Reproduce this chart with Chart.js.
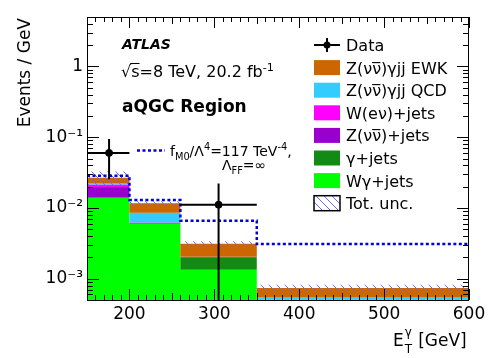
<!DOCTYPE html>
<html>
<head>
<meta charset="utf-8">
<script src="https://cdn.jsdelivr.net/npm/chart.js@4.4.0/dist/chart.umd.min.js"></script>
<style>
  html, body { margin: 0; padding: 0; background: #fff; }
</style>
</head>
<body>
<canvas id="c" width="498" height="358"></canvas>
<script>
// bin edges (GeV)
const binEdges = [150, 200, 260, 350, 600];

// background stack, Events / GeV, bottom -> top
const wgamJets = [0.0138, 0.0060, 0.00134, 0.00048];
const gamJets  = [0.0002, 0.00005, 0.00067, 0.00001];
const zvvJets  = [0.0058, 0.0001, 0.00001, 0.00001];
const wenJets  = [0.0017, 0.0001, 0.00001, 0.00001];
const zgQCD    = [0.0007, 0.0023, 0.00002, 0.00004];
const zgEWK    = [0.0046, 0.0031, 0.00108, 0.00019];
const totUnc   = [0.006, 0.0008, 0.00025, 0.00008];

// aQGC signal fM0 (dashed)
const signalM0 = [0.0285, 0.0130, 0.0066, 0.0031];

// data
const dataX   = [176, 305];
const dataY   = [0.060, 0.0111];
const dataErr = [0.0346, 0.0111];
const dataXLo = [150, 260];
const dataXHi = [200, 350];

// ticks
const xTicks = [200, 300, 400, 500, 600];
const yTickVals = [1e-3, 1e-2, 1e-1, 1];
const yTickLabels = ['10⁻³', '10⁻²', '10⁻¹', '1'];

const layerNames = ['Wγ+jets', 'γ+jets', 'Z(νν̅)+jets', 'W(eν)+jets', 'Z(νν̅)γjj QCD', 'Z(νν̅)γjj EWK'];
const layerColors = ['#00ff00', '#138a13', '#9900cc', '#ff00ff', '#33ccff', '#cc6600'];

const FONT = '"DejaVu Sans", sans-serif';
Chart.defaults.font.family = FONT;
Chart.defaults.color = '#000';

// step points at each left edge, plus the last right edge
function steps(vals) {
    const pts = vals.map((v, i) => ({ x: binEdges[i], y: v }));
    pts.push({ x: binEdges[binEdges.length - 1], y: vals[vals.length - 1] });
    return pts;
}

// hatch pattern for the uncertainty band
function hatch() {
    const c = document.createElement('canvas');
    c.width = 8; c.height = 8;
    const g = c.getContext('2d');
    g.strokeStyle = '#6a6aff';
    g.lineWidth = 1;
    g.beginPath();
    g.moveTo(0, 0); g.lineTo(8, 8);
    g.moveTo(-1, 7); g.lineTo(1, 9);
    g.moveTo(7, -1); g.lineTo(9, 1);
    g.stroke();
    return g.createPattern(c, 'repeat');
}
const hatchPattern = hatch();

const layers = [wgamJets, gamJets, zvvJets, wenJets, zgQCD, zgEWK];
let run = [0, 0, 0, 0];
const cum = layers.map(l => (run = run.map((r, i) => r + l[i])));
const total = cum[cum.length - 1];

const datasets = [];
layers.forEach((l, k) => {
    datasets.push({
        label: layerNames[k],
        data: steps(cum[k]),
        stepped: 'before',
        borderWidth: 0,
        borderColor: layerColors[k],
        backgroundColor: layerColors[k],
        pointRadius: 0,
        fill: k === 0 ? 'start' : '-1',
        order: 20 - k
    });
});
datasets.push({
    label: 'unc lo',
    data: steps(total.map((t, i) => t - totUnc[i])),
    stepped: 'before',
    borderWidth: 0,
    borderColor: 'rgba(0,0,0,0)',
    pointRadius: 0,
    fill: false,
    order: 6
});
datasets.push({
    label: 'Tot. unc.',
    data: steps(total.map((t, i) => t + totUnc[i])),
    stepped: 'before',
    borderWidth: 0,
    borderColor: 'rgba(0,0,0,0)',
    backgroundColor: hatchPattern,
    pointRadius: 0,
    fill: '-1',
    order: 5
});
datasets.push({
    label: 'fM0',
    data: steps(signalM0),
    stepped: 'before',
    borderWidth: 2.5,
    borderColor: '#0000dd',
    borderDash: [3, 2.5],
    pointRadius: 0,
    fill: false,
    order: 2
});
datasets.push({
    label: 'Data',
    data: dataX.map((x, i) => ({ x: x, y: dataY[i] })),
    showLine: false,
    pointRadius: 3.5,
    pointBackgroundColor: '#000',
    pointBorderColor: '#000',
    order: 0
});

function richText(ctx, x, y, parts, size) {
    parts.forEach(([t, kind]) => {
        const s = kind === 'n' ? size : size * 0.7;
        const dy = kind === 'sup' ? -size * 0.4 : kind === 'sub' ? size * 0.28 : 0;
        ctx.font = `${s}px ${FONT}`;
        ctx.fillText(t, x, y + dy);
        x += ctx.measureText(t).width;
    });
    return x;
}

const errorBars = {
    id: 'errorBars',
    afterDatasetsDraw(chart) {
        const { ctx, chartArea: a, scales: { x, y } } = chart;
        ctx.save();
        ctx.beginPath();
        ctx.rect(a.left, a.top, a.width, a.height);
        ctx.clip();
        ctx.strokeStyle = '#000';
        ctx.lineWidth = 2;
        dataX.forEach((xv, i) => {
            const px = x.getPixelForValue(xv);
            const py = y.getPixelForValue(dataY[i]);
            const lo = dataY[i] - dataErr[i];
            const pLo = lo > 0 ? y.getPixelForValue(lo) : a.bottom;
            const pHi = y.getPixelForValue(dataY[i] + dataErr[i]);
            ctx.beginPath();
            ctx.moveTo(x.getPixelForValue(dataXLo[i]), py);
            ctx.lineTo(x.getPixelForValue(dataXHi[i]), py);
            ctx.moveTo(px, pHi);
            ctx.lineTo(px, pLo);
            ctx.stroke();
        });
        ctx.restore();
    }
};

const frame = {
    id: 'frame',
    afterDraw(chart) {
        const { ctx, chartArea: a, scales: { x, y } } = chart;
        ctx.save();
        ctx.strokeStyle = '#000';
        ctx.lineWidth = 1;
        ctx.strokeRect(a.left + 0.5, a.top + 0.5, a.width - 1, a.height);

        // tick marks inside the frame
        ctx.beginPath();
        for (let v = 150; v <= 600; v += 10) {
            const px = Math.round(x.getPixelForValue(v)) + 0.5;
            const len = v % 100 === 0 ? 11 : (v % 50 === 0 ? 7 : 5);
            ctx.moveTo(px, a.bottom); ctx.lineTo(px, a.bottom - len);
            ctx.moveTo(px, a.top); ctx.lineTo(px, a.top + len);
        }
        for (let e = -4; e <= 0; e++) {
            for (let m = 1; m <= 9; m++) {
                const v = m * Math.pow(10, e);
                if (v < y.min || v > y.max) continue;
                const py = Math.round(y.getPixelForValue(v)) + 0.5;
                const len = m === 1 ? 12 : 6;
                ctx.moveTo(a.left, py); ctx.lineTo(a.left + len, py);
                ctx.moveTo(a.right, py); ctx.lineTo(a.right - len, py);
            }
        }
        ctx.stroke();

        // axis titles
        ctx.fillStyle = '#000';
        ctx.save();
        ctx.translate(30, 18);
        ctx.rotate(-Math.PI / 2);
        ctx.font = `17px ${FONT}`;
        ctx.textAlign = 'right';
        ctx.textBaseline = 'alphabetic';
        ctx.fillText('Events / GeV', 0, 0);
        ctx.restore();

        ctx.textBaseline = 'alphabetic';
        ctx.textAlign = 'left';
        ctx.font = `17px ${FONT}`;
        ctx.fillText('E', 393, 346);
        const ex = 393 + ctx.measureText('E').width + 1;
        ctx.font = `12px ${FONT}`;
        ctx.fillText('γ', ex, 336);
        ctx.fillText('T', ex, 353);
        ctx.font = `17px ${FONT}`;
        ctx.fillText(' [GeV]', ex + 8, 346);

        // labels
        ctx.font = `bold italic 14px ${FONT}`;
        ctx.fillText('ATLAS', 122, 49);
        ctx.font = `16px ${FONT}`;
        ctx.fillText('√', 121, 77);
        const sx = 121 + ctx.measureText('√').width;
        ctx.fillRect(sx - 1, 63, ctx.measureText('s').width + 1, 1);
        richText(ctx, sx, 77, [['s=8 TeV, 20.2 fb', 'n'], ['-1', 'sup']], 16);
        ctx.font = `bold 17px ${FONT}`;
        ctx.fillText('aQGC Region', 122, 112);

        // signal annotation
        ctx.strokeStyle = '#0000dd';
        ctx.lineWidth = 2.5;
        ctx.setLineDash([3, 2.5]);
        ctx.beginPath();
        ctx.moveTo(137, 150.5); ctx.lineTo(165, 150.5);
        ctx.stroke();
        ctx.setLineDash([]);
        richText(ctx, 170, 156, [['f', 'n'], ['M0', 'sub'], ['/Λ', 'n'], ['4', 'sup'], ['=117 TeV', 'n'], ['-4', 'sup'], [',', 'n']], 14);
        richText(ctx, 222, 170, [['Λ', 'n'], ['FF', 'sub'], ['=∞', 'n']], 14);

        // legend
        const lx = 314, tx = 346, ly0 = 45, dy = 22.6;
        ctx.font = `16px ${FONT}`;
        ctx.strokeStyle = '#000';
        ctx.lineWidth = 2;
        ctx.beginPath();
        ctx.moveTo(lx, ly0); ctx.lineTo(lx + 26, ly0);
        ctx.moveTo(lx + 13, ly0 - 7); ctx.lineTo(lx + 13, ly0 + 7);
        ctx.stroke();
        ctx.beginPath();
        ctx.arc(lx + 13, ly0, 3.5, 0, 2 * Math.PI);
        ctx.fill();
        ctx.fillText('Data', tx, ly0 + 6);
        for (let k = layers.length - 1, row = 1; k >= 0; k--, row++) {
            const cy = ly0 + row * dy;
            ctx.fillStyle = layerColors[k];
            ctx.fillRect(lx, cy - 7.5, 26, 15);
            ctx.fillStyle = '#000';
            ctx.font = `16px ${FONT}`;
            ctx.fillText(layerNames[k], tx, cy + 6);
        }
        const cy = ly0 + (layers.length + 1) * dy;
        ctx.fillStyle = '#fff';
        ctx.fillRect(lx, cy - 7.5, 26, 15);
        ctx.fillStyle = hatchPattern;
        ctx.fillRect(lx, cy - 7.5, 26, 15);
        ctx.lineWidth = 1.5;
        ctx.strokeStyle = '#000';
        ctx.strokeRect(lx, cy - 7.5, 26, 15);
        ctx.fillStyle = '#000';
        ctx.fillText('Tot. unc.', tx, cy + 6);
        ctx.restore();
    }
};

new Chart(document.getElementById('c'), {
    type: 'line',
    data: { datasets: datasets },
    options: {
        responsive: false,
        animation: false,
        layout: { padding: { top: 17, right: 29, left: 0, bottom: 0 } },
        plugins: { legend: { display: false }, tooltip: { enabled: false } },
        scales: {
            x: {
                type: 'linear',
                min: 150,
                max: 600,
                grid: { display: false, drawTicks: false },
                border: { display: false },
                afterBuildTicks: s => { s.ticks = xTicks.map(v => ({ value: v })); },
                afterFit: s => { s.height = 58; },
                ticks: { font: { size: 17 }, padding: 4, maxRotation: 0, autoSkip: false }
            },
            y: {
                type: 'logarithmic',
                min: 5e-4,
                max: 5,
                grid: { display: false, drawTicks: false },
                border: { display: false },
                afterBuildTicks: s => { s.ticks = yTickVals.map(v => ({ value: v })); },
                afterFit: s => { s.width = 87; },
                ticks: {
                    font: { size: 17 },
                    padding: 4,
                    autoSkip: false,
                    callback: (v, i) => yTickLabels[i]
                }
            }
        }
    },
    plugins: [errorBars, frame]
});
</script>
</body>
</html>
